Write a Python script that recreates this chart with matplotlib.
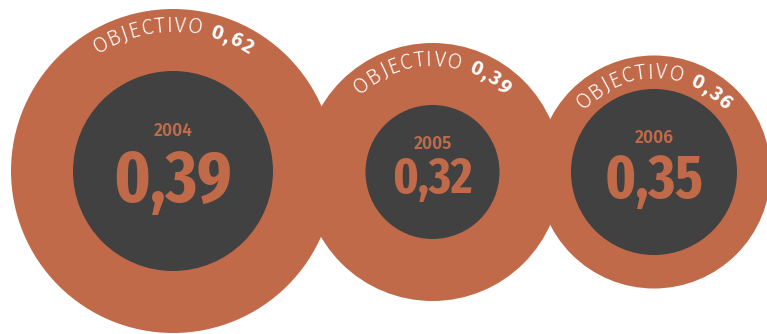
import matplotlib
matplotlib.use("Agg")
import matplotlib.pyplot as plt
from matplotlib.patches import Circle
from matplotlib import font_manager as fm
import numpy as np

# ---- data ----
years = ["2004", "2005", "2006"]
actual = [0.39, 0.32, 0.35]
objective = [0.62, 0.39, 0.36]
label_word = "OBJECTIVO"

# ---- layout (pixels) ----
W, H = 767, 334
cx = [173, 432.5, 654]
cy = [171, 172, 172]
outer_r = [162, 129, 116.5]
inner_r = [100, 67, 83]
num_size = [52, 36.5, 44]
year_size = 12.5
word_size = 15.5
objnum_size = 14.5

ORANGE = "#C06A49"
DARK = "#414141"

def fmt(v):
    return f"{v:.2f}".replace(".", ",")

fig = plt.figure(figsize=(W / 100, H / 100), dpi=100)
ax = fig.add_axes([0, 0, 1, 1])
ax.set_xlim(0, W)
ax.set_ylim(H, 0)
ax.set_aspect("equal")
ax.axis("off")

renderer = fig.canvas.get_renderer()

sans = ["Fira Sans", "Open Sans", "DejaVu Sans"]
light = dict(family=sans, weight=300, size=word_size, color="white")
bold = dict(family=sans, weight="bold", size=objnum_size, color="white")
cond = ["Fira Sans Extra Condensed", "DejaVu Sans"]

def char_width(ch, props):
    fp = fm.FontProperties(family=props["family"], weight=props["weight"], size=props["size"])
    w, h, d = renderer.get_text_width_height_descent(ch, fp, ismath=False)
    return w

def arc_text(x0, y0, r, parts):
    chars = []
    for s, props, trk in parts:
        for ch in s:
            chars.append((ch, props, char_width(ch, props) + trk))
    L = sum(c[2] for c in chars)
    th0 = np.pi / 2 + (L / 2) / r
    pos = 0
    for ch, props, w in chars:
        th = th0 - (pos + w / 2) / r
        pos += w
        if ch == " ":
            continue
        x = x0 + r * np.cos(th)
        y = y0 - r * np.sin(th)
        ax.text(x, y, ch, ha="center", va="baseline", rotation=np.degrees(th) - 90,
                rotation_mode="anchor", zorder=4, **props)

for i in range(len(years)):
    ax.add_patch(Circle((cx[i], cy[i]), outer_r[i], facecolor=ORANGE, edgecolor="none", zorder=1))
for i in range(len(years)):
    ax.add_patch(Circle((cx[i], cy[i]), inner_r[i], facecolor=DARK, edgecolor="none", zorder=2))
    arc_text(cx[i], cy[i], outer_r[i] - 23,
             [(label_word + " ", light, 1.0), (fmt(objective[i]), bold, 1.6)])
    ax.text(cx[i], cy[i] - 0.35 * inner_r[i], years[i], ha="center", va="baseline",
            fontsize=year_size, fontweight="semibold", color=ORANGE, family=sans, zorder=3)
    ax.text(cx[i], cy[i] + 0.31 * inner_r[i], fmt(actual[i]), ha="center", va="baseline",
            fontsize=num_size[i], fontweight="bold", color=ORANGE, family=cond, zorder=3)

fig.savefig("out.png", dpi=100)
